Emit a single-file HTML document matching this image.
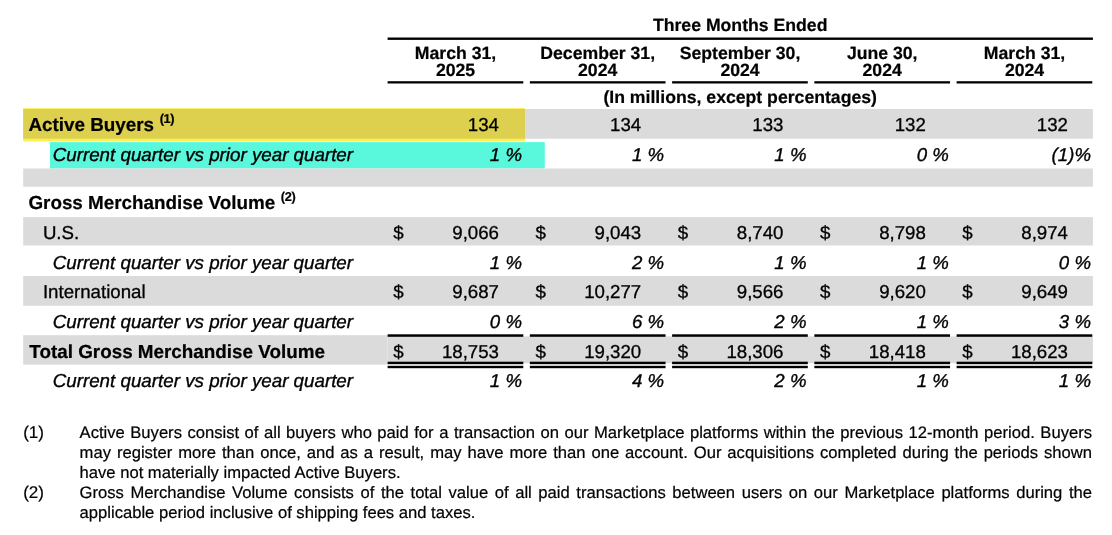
<!DOCTYPE html>
<html><head><meta charset="utf-8"><title>Table</title>
<style>
html,body{margin:0;padding:0;background:#fff}
body{width:1112px;height:535px;position:relative;overflow:hidden;font-family:"Liberation Sans",sans-serif;color:#000;-webkit-text-stroke:0.3px #000}
svg{position:absolute;left:0;top:0}
span{position:absolute;white-space:nowrap}
.b{font-weight:bold;-webkit-text-stroke:0.22px #000}
.i{font-style:italic;-webkit-text-stroke:0.36px #000}
.n{color:#000;-webkit-text-stroke:0.22px #000}
sup{font-size:68%;vertical-align:baseline;position:relative;top:-0.66em;line-height:0;letter-spacing:-0.4px;margin-left:0.4px}
#w{position:absolute;left:0;top:0;width:1112px;height:535px;will-change:transform;opacity:0.999;text-rendering:geometricPrecision}
</style></head><body><div id="w">
<svg width="1112" height="535" viewBox="0 0 1112 535">
<rect x="23.20" y="109.00" width="1069.70" height="29.70" fill="#dbdbdb"/>
<rect x="23.20" y="108.10" width="501.80" height="33.40" fill="#fbee58"/>
<rect x="23.20" y="109.00" width="501.80" height="29.70" fill="#ddd04e"/>
<rect x="50.00" y="142.10" width="494.80" height="26.40" fill="#59f8dc"/>
<rect x="23.20" y="168.50" width="1069.70" height="18.20" fill="#dbdbdb"/>
<rect x="23.20" y="217.10" width="1069.70" height="28.40" fill="#dbdbdb"/>
<rect x="23.20" y="276.00" width="1069.70" height="29.80" fill="#dbdbdb"/>
<rect x="23.20" y="335.20" width="364.40" height="29.40" fill="#dbdbdb"/>
<rect x="387.60" y="336.40" width="705.30" height="26.80" fill="#dbdbdb"/>
<rect x="387.60" y="37.50" width="705.30" height="2.40" fill="#000"/>
<rect x="387.60" y="81.20" width="135.70" height="2.30" fill="#000"/>
<rect x="529.85" y="81.20" width="135.70" height="2.30" fill="#000"/>
<rect x="672.10" y="81.20" width="135.70" height="2.30" fill="#000"/>
<rect x="814.35" y="81.20" width="135.70" height="2.30" fill="#000"/>
<rect x="956.60" y="81.20" width="135.70" height="2.30" fill="#000"/>
<rect x="387.60" y="334.30" width="135.70" height="2.50" fill="#000"/>
<rect x="387.60" y="361.70" width="135.70" height="2.50" fill="#000"/>
<rect x="387.60" y="365.80" width="135.70" height="2.40" fill="#000"/>
<rect x="529.85" y="334.30" width="135.70" height="2.50" fill="#000"/>
<rect x="529.85" y="361.70" width="135.70" height="2.50" fill="#000"/>
<rect x="529.85" y="365.80" width="135.70" height="2.40" fill="#000"/>
<rect x="672.10" y="334.30" width="135.70" height="2.50" fill="#000"/>
<rect x="672.10" y="361.70" width="135.70" height="2.50" fill="#000"/>
<rect x="672.10" y="365.80" width="135.70" height="2.40" fill="#000"/>
<rect x="814.35" y="334.30" width="135.70" height="2.50" fill="#000"/>
<rect x="814.35" y="361.70" width="135.70" height="2.50" fill="#000"/>
<rect x="814.35" y="365.80" width="135.70" height="2.40" fill="#000"/>
<rect x="956.60" y="334.30" width="135.70" height="2.50" fill="#000"/>
<rect x="956.60" y="361.70" width="135.70" height="2.50" fill="#000"/>
<rect x="956.60" y="365.80" width="135.70" height="2.40" fill="#000"/>
</svg>
<span class="b" style="top:15px;font-size:17.65px;line-height:20px;height:20px;left:440.2px;width:600px;text-align:center;">Three Months Ended</span>
<span class="b" style="top:43px;font-size:17.65px;line-height:20px;height:20px;left:155.5px;width:600px;text-align:center;">March 31,</span>
<span class="b" style="top:60px;font-size:17.65px;line-height:20px;height:20px;left:155.5px;width:600px;text-align:center;">2025</span>
<span class="b" style="top:43px;font-size:17.65px;line-height:20px;height:20px;left:297.7px;width:600px;text-align:center;">December 31,</span>
<span class="b" style="top:60px;font-size:17.65px;line-height:20px;height:20px;left:297.7px;width:600px;text-align:center;">2024</span>
<span class="b" style="top:43px;font-size:17.65px;line-height:20px;height:20px;left:440.0px;width:600px;text-align:center;">September 30,</span>
<span class="b" style="top:60px;font-size:17.65px;line-height:20px;height:20px;left:440.0px;width:600px;text-align:center;">2024</span>
<span class="b" style="top:43px;font-size:17.65px;line-height:20px;height:20px;left:582.2px;width:600px;text-align:center;">June 30,</span>
<span class="b" style="top:60px;font-size:17.65px;line-height:20px;height:20px;left:582.2px;width:600px;text-align:center;">2024</span>
<span class="b" style="top:43px;font-size:17.65px;line-height:20px;height:20px;left:724.5px;width:600px;text-align:center;">March 31,</span>
<span class="b" style="top:60px;font-size:17.65px;line-height:20px;height:20px;left:724.5px;width:600px;text-align:center;">2024</span>
<span class="b" style="top:87px;font-size:17.65px;line-height:20px;height:20px;left:440.2px;width:600px;text-align:center;">(In millions, except percentages)</span>
<span class="b" style="top:114px;font-size:18.85px;line-height:21px;height:21px;left:28.4px;">Active Buyers <sup>(1)</sup></span>
<span class="" style="top:114px;font-size:18.67px;line-height:21px;height:21px;right:613.0px;">134</span>
<span class="" style="top:114px;font-size:18.67px;line-height:21px;height:21px;right:470.8px;">134</span>
<span class="" style="top:114px;font-size:18.67px;line-height:21px;height:21px;right:328.5px;">133</span>
<span class="" style="top:114px;font-size:18.67px;line-height:21px;height:21px;right:186.2px;">132</span>
<span class="" style="top:114px;font-size:18.67px;line-height:21px;height:21px;right:44.0px;">132</span>
<span class="i" style="top:144px;font-size:18.78px;line-height:21px;height:21px;left:52.7px;">Current quarter vs prior year quarter</span>
<span class="i" style="top:144px;font-size:18.67px;line-height:21px;height:21px;right:590.0px;">1 %</span>
<span class="i" style="top:144px;font-size:18.67px;line-height:21px;height:21px;right:447.8px;">1 %</span>
<span class="i" style="top:144px;font-size:18.67px;line-height:21px;height:21px;right:305.5px;">1 %</span>
<span class="i" style="top:144px;font-size:18.67px;line-height:21px;height:21px;right:163.2px;">0 %</span>
<span class="i" style="top:144px;font-size:18.67px;line-height:21px;height:21px;right:21.0px;">(1)%</span>
<span class="b" style="top:192px;font-size:18.85px;line-height:21px;height:21px;left:28.4px;">Gross Merchandise Volume <sup>(2)</sup></span>
<span class="" style="top:222px;font-size:18.67px;line-height:21px;height:21px;left:42.9px;">U.S.</span>
<span class="" style="top:222px;font-size:18.67px;line-height:21px;height:21px;right:613.0px;">9,066</span>
<span class="" style="top:222px;font-size:18.67px;line-height:21px;height:21px;left:393.2px;">$</span>
<span class="" style="top:222px;font-size:18.67px;line-height:21px;height:21px;right:470.8px;">9,043</span>
<span class="" style="top:222px;font-size:18.67px;line-height:21px;height:21px;left:535.5px;">$</span>
<span class="" style="top:222px;font-size:18.67px;line-height:21px;height:21px;right:328.5px;">8,740</span>
<span class="" style="top:222px;font-size:18.67px;line-height:21px;height:21px;left:677.7px;">$</span>
<span class="" style="top:222px;font-size:18.67px;line-height:21px;height:21px;right:186.2px;">8,798</span>
<span class="" style="top:222px;font-size:18.67px;line-height:21px;height:21px;left:820.0px;">$</span>
<span class="" style="top:222px;font-size:18.67px;line-height:21px;height:21px;right:44.0px;">8,974</span>
<span class="" style="top:222px;font-size:18.67px;line-height:21px;height:21px;left:962.2px;">$</span>
<span class="i" style="top:252px;font-size:18.78px;line-height:21px;height:21px;left:52.7px;">Current quarter vs prior year quarter</span>
<span class="i" style="top:252px;font-size:18.67px;line-height:21px;height:21px;right:590.0px;">1 %</span>
<span class="i" style="top:252px;font-size:18.67px;line-height:21px;height:21px;right:447.8px;">2 %</span>
<span class="i" style="top:252px;font-size:18.67px;line-height:21px;height:21px;right:305.5px;">1 %</span>
<span class="i" style="top:252px;font-size:18.67px;line-height:21px;height:21px;right:163.2px;">1 %</span>
<span class="i" style="top:252px;font-size:18.67px;line-height:21px;height:21px;right:21.0px;">0 %</span>
<span class="" style="top:281px;font-size:18.67px;line-height:21px;height:21px;left:42.9px;">International</span>
<span class="" style="top:281px;font-size:18.67px;line-height:21px;height:21px;right:613.0px;">9,687</span>
<span class="" style="top:281px;font-size:18.67px;line-height:21px;height:21px;left:393.2px;">$</span>
<span class="" style="top:281px;font-size:18.67px;line-height:21px;height:21px;right:470.8px;">10,277</span>
<span class="" style="top:281px;font-size:18.67px;line-height:21px;height:21px;left:535.5px;">$</span>
<span class="" style="top:281px;font-size:18.67px;line-height:21px;height:21px;right:328.5px;">9,566</span>
<span class="" style="top:281px;font-size:18.67px;line-height:21px;height:21px;left:677.7px;">$</span>
<span class="" style="top:281px;font-size:18.67px;line-height:21px;height:21px;right:186.2px;">9,620</span>
<span class="" style="top:281px;font-size:18.67px;line-height:21px;height:21px;left:820.0px;">$</span>
<span class="" style="top:281px;font-size:18.67px;line-height:21px;height:21px;right:44.0px;">9,649</span>
<span class="" style="top:281px;font-size:18.67px;line-height:21px;height:21px;left:962.2px;">$</span>
<span class="i" style="top:311px;font-size:18.78px;line-height:21px;height:21px;left:52.7px;">Current quarter vs prior year quarter</span>
<span class="i" style="top:311px;font-size:18.67px;line-height:21px;height:21px;right:590.0px;">0 %</span>
<span class="i" style="top:311px;font-size:18.67px;line-height:21px;height:21px;right:447.8px;">6 %</span>
<span class="i" style="top:311px;font-size:18.67px;line-height:21px;height:21px;right:305.5px;">2 %</span>
<span class="i" style="top:311px;font-size:18.67px;line-height:21px;height:21px;right:163.2px;">1 %</span>
<span class="i" style="top:311px;font-size:18.67px;line-height:21px;height:21px;right:21.0px;">3 %</span>
<span class="b" style="top:341px;font-size:18.85px;line-height:21px;height:21px;left:29.3px;">Total Gross Merchandise Volume</span>
<span class="" style="top:341px;font-size:18.67px;line-height:21px;height:21px;right:613.0px;">18,753</span>
<span class="" style="top:341px;font-size:18.67px;line-height:21px;height:21px;left:393.2px;">$</span>
<span class="" style="top:341px;font-size:18.67px;line-height:21px;height:21px;right:470.8px;">19,320</span>
<span class="" style="top:341px;font-size:18.67px;line-height:21px;height:21px;left:535.5px;">$</span>
<span class="" style="top:341px;font-size:18.67px;line-height:21px;height:21px;right:328.5px;">18,306</span>
<span class="" style="top:341px;font-size:18.67px;line-height:21px;height:21px;left:677.7px;">$</span>
<span class="" style="top:341px;font-size:18.67px;line-height:21px;height:21px;right:186.2px;">18,418</span>
<span class="" style="top:341px;font-size:18.67px;line-height:21px;height:21px;left:820.0px;">$</span>
<span class="" style="top:341px;font-size:18.67px;line-height:21px;height:21px;right:44.0px;">18,623</span>
<span class="" style="top:341px;font-size:18.67px;line-height:21px;height:21px;left:962.2px;">$</span>
<span class="i" style="top:370px;font-size:18.78px;line-height:21px;height:21px;left:52.7px;">Current quarter vs prior year quarter</span>
<span class="i" style="top:370px;font-size:18.67px;line-height:21px;height:21px;right:590.0px;">1 %</span>
<span class="i" style="top:370px;font-size:18.67px;line-height:21px;height:21px;right:447.8px;">4 %</span>
<span class="i" style="top:370px;font-size:18.67px;line-height:21px;height:21px;right:305.5px;">2 %</span>
<span class="i" style="top:370px;font-size:18.67px;line-height:21px;height:21px;right:163.2px;">1 %</span>
<span class="i" style="top:370px;font-size:18.67px;line-height:21px;height:21px;right:21.0px;">1 %</span>
<span class="n" style="top:423px;font-size:17.0px;line-height:19px;height:19px;left:23.2px;">(1)</span>
<span class="n" style="top:423px;left:79.6px;width:1012.4px;font-size:16.6px;line-height:19px;height:19px;text-align:justify;text-align-last:justify;">Active Buyers consist of all buyers who paid for a transaction on our Marketplace platforms within the previous 12-month period. Buyers</span>
<span class="n" style="top:443px;left:79.6px;width:1012.4px;font-size:16.6px;line-height:19px;height:19px;text-align:justify;text-align-last:justify;">may register more than once, and as a result, may have more than one account. Our acquisitions completed during the periods shown</span>
<span class="n" style="top:463px;left:79.6px;width:1012.4px;font-size:16.6px;line-height:19px;height:19px;">have not materially impacted Active Buyers.</span>
<span class="n" style="top:483px;font-size:17.0px;line-height:19px;height:19px;left:23.2px;">(2)</span>
<span class="n" style="top:483px;left:79.6px;width:1012.4px;font-size:16.6px;line-height:19px;height:19px;text-align:justify;text-align-last:justify;">Gross Merchandise Volume consists of the total value of all paid transactions between users on our Marketplace platforms during the</span>
<span class="n" style="top:503px;left:79.6px;width:1012.4px;font-size:16.6px;line-height:19px;height:19px;">applicable period inclusive of shipping fees and taxes.</span>
</div></body></html>
